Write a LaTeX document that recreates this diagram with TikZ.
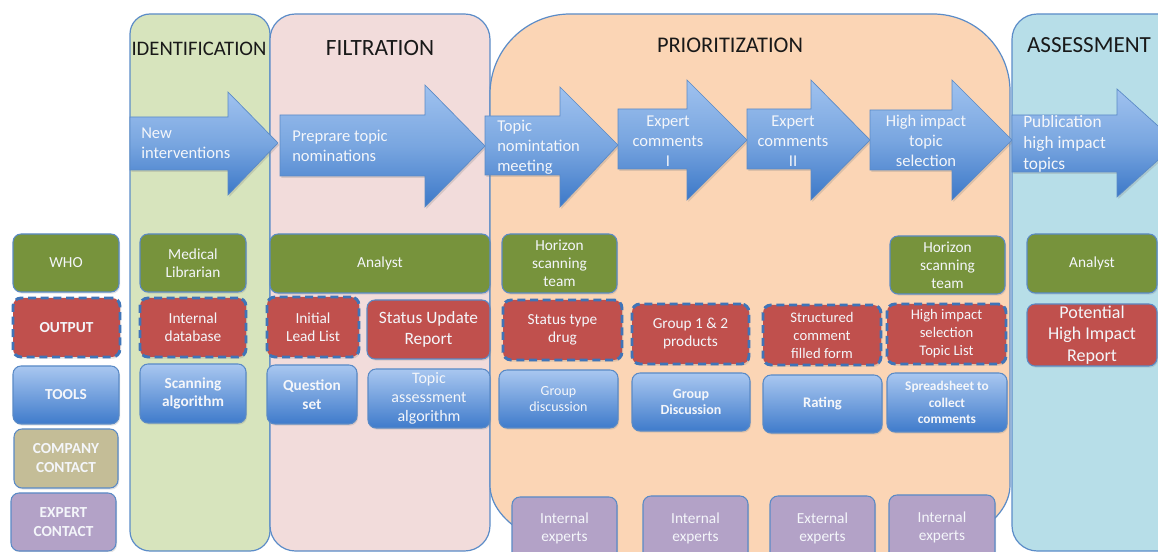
\documentclass[tikz,border=0pt]{standalone}
\usepackage{fontspec}
\setmainfont{Carlito}
\usetikzlibrary{shadows}

\definecolor{panelline}{HTML}{5B8CC8}
\definecolor{idfill}{HTML}{D7E4BD}
\definecolor{fifill}{HTML}{F2DCDB}
\definecolor{prfill}{HTML}{FBD5B5}
\definecolor{asfill}{HTML}{B7DEE8}
\definecolor{whofill}{HTML}{77933C}
\definecolor{outfill}{HTML}{C0504D}
\definecolor{toolstop}{HTML}{A9C7F0}
\definecolor{toolsbot}{HTML}{3F7BCB}
\definecolor{comfill}{HTML}{C4BD97}
\definecolor{expfill}{HTML}{B3A2C7}
\definecolor{boxline}{HTML}{5A8AC6}
\definecolor{dashline}{HTML}{3F74B8}
\definecolor{arrtop}{HTML}{A0C2EF}
\definecolor{arrmid}{HTML}{79A6E0}
\definecolor{arrbot}{HTML}{3C78C8}
\definecolor{lighttext}{HTML}{F4F6FA}

\newcommand\fs[2]{\fontsize{#1}{#2}\selectfont}

\tikzset{
  panel/.style={draw=panelline, line width=0.9pt},
  card/.style={rectangle, rounded corners=6pt, draw=boxline, line width=0.8pt,
    text=lighttext, align=center, inner sep=0pt, font=\fs{11.5}{13.5},
    drop shadow={opacity=0.22, shadow xshift=0.8pt, shadow yshift=-1.2pt}},
  whobox/.style={card, fill=whofill},
  outbox/.style={card, fill=outfill},
  outdashbox/.style={outbox, draw=dashline, line width=2.2pt, dash pattern=on 6pt off 3.5pt},
  toolbox/.style={card, top color=toolstop, bottom color=toolsbot},
  companybox/.style={card, fill=comfill},
  expertbox/.style={card, fill=expfill},
  flow/.style={draw=boxline, line width=0.5pt, top color=arrtop, bottom color=arrbot,
    middle color=arrmid,
    drop shadow={opacity=0.25, shadow xshift=1pt, shadow yshift=-1.5pt}},
  flowtext/.style={text=lighttext, font=\fs{12.4}{15}, inner sep=0pt},
  title/.style={text=black!90, inner sep=0pt}
}

% \cell{name}{style}{x1}{y1}{x2}{y2}{text}
\newcommand\cell[7]{\node[#2, minimum width={(#5-#3)*0.75pt},
  minimum height={(#6-#4)*0.75pt}] (#1) at ({(#3+#5)/2},{(#4+#6)/2}) {#7};}
% \flowarrow{left}{head base}{tip}{body top}{body bottom}{head top}{head bottom}{tip y}
\newcommand\flowarrow[8]{\path[flow] (#1,#4) -- (#2,#4) -- (#2,#6) -- (#3,#8)
  -- (#2,#7) -- (#2,#5) -- (#1,#5) -- cycle;}

\begin{document}
\begin{tikzpicture}[x=0.75pt, y=-0.75pt]
\useasboundingbox (0,0) rectangle (1158,552);
\fill[white] (0,0) rectangle (1158,552);

% stage panels
\draw[panel, fill=idfill, rounded corners=15pt] (130,14) rectangle (270,551);
\draw[panel, fill=fifill, rounded corners=19pt] (270,14) rectangle (490,551);
\draw[panel, fill=prfill] (490,94) .. controls (490,49.8) and (525.8,14) .. (570,14)
  -- (933,14) .. controls (975.5,14) and (1010,48.5) .. (1010,91)
  -- (1010,485) .. controls (1010,524.2) and (951.8,556) .. (880,556)
  -- (620,556) .. controls (548.2,556) and (490,524.2) .. (490,485) -- cycle;
\draw[panel, fill=asfill, rounded corners=19pt] (1012,14) rectangle (1190,551);

% stage titles
\node[title, font=\fs{15.5}{18}] (idtitle) at (199,49) {IDENTIFICATION};
\node[title, font=\fs{17.5}{20}] (fititle) at (380,48) {FILTRATION};
\node[title, font=\fs{16.8}{19}] (prtitle) at (730,45) {PRIORITIZATION};
\node[title, font=\fs{17.3}{20}] (astitle) at (1089,45) {ASSESSMENT};

% process arrows
\flowarrow{130}{228}{278}{117}{170}{92}{195}{143}
\flowarrow{280}{425}{485}{115}{176}{85}{207}{146}
\flowarrow{485}{560}{618}{116}{175}{87}{207}{145}
\flowarrow{618}{687}{747}{109}{169}{80}{200}{140}
\flowarrow{747}{811}{870}{109}{169}{80}{200}{140}
\flowarrow{870}{952}{1012}{110}{170}{80}{200}{140}
\flowarrow{1012}{1117}{1177}{115}{172}{89}{197}{143}

\node[flowtext, anchor=west, align=left] (a1) at (141,143) {New\\interventions};
\node[flowtext, anchor=west, align=left] (a2) at (292,146) {Preprare topic\\nominations};
\node[flowtext, anchor=west, align=left] (a3) at (497,147) {Topic\\nomintation\\meeting};
\node[flowtext, align=center] (a4) at (668,141) {Expert\\comments\\I};
\node[flowtext, align=center] (a5) at (793,141) {Expert\\comments\\II};
\node[flowtext, align=center] (a6) at (926,141) {High impact\\topic\\selection};
\node[flowtext, anchor=west, align=left, font=\fs{13}{16}] (a7) at (1023,144) {Publication\\high impact\\topics};

% row legend
\cell{who}{whobox}{13}{234}{119}{292}{WHO}
\cell{output}{outdashbox, font=\fs{11.5}{13.5}\bfseries}{13}{298}{120}{357}{OUTPUT}
\cell{tools}{toolbox, font=\fs{11.5}{13.5}\bfseries}{13}{366}{119}{424}{TOOLS}
\cell{company}{companybox, font=\fs{11.5}{14.25}\bfseries}{14}{429}{118}{488}{COMPANY\\CONTACT}
\cell{expert}{expertbox, font=\fs{11.5}{14.25}\bfseries}{11}{493}{116}{551}{EXPERT\\CONTACT}

% identification
\cell{idwho}{whobox}{140}{234}{246}{292}{Medical\\Librarian}
\cell{idout}{outdashbox}{140}{298}{246}{357}{Internal\\database}
\cell{idtool}{toolbox, font=\fs{11.5}{14}\bfseries}{140}{364}{246}{423}{Scanning\\algorithm}

% filtration
\cell{fiwho}{whobox}{270}{234}{490}{293}{Analyst}
\cell{fiout}{outdashbox}{267}{297}{359}{357}{Initial\\Lead List}
\cell{fireport}{outbox, font=\fs{13}{15.5}}{367}{300}{490}{359}{Status Update\\Report}
\cell{fiquest}{toolbox, font=\fs{11.5}{14}\bfseries}{267}{365}{357}{424}{Question\\set}
\cell{fitopic}{toolbox, font=\fs{12}{14.25}}{368}{369}{490}{428}{Topic\\assessment\\algorithm}

% prioritization
\cell{prwhoa}{whobox}{502}{234}{617}{293}{Horizon\\scanning\\team}
\cell{prwhob}{whobox}{890}{236}{1005}{294}{Horizon\\scanning\\team}
\cell{prouta}{outdashbox}{503}{300}{622}{360}{Status type\\drug}
\cell{proutb}{outdashbox}{632}{304}{749}{364}{Group 1 \& 2\\products}
\cell{proutc}{outdashbox, font=\fs{11}{13.5}}{763}{305}{881}{365}{Structured\\comment\\filled form}
\cell{proutd}{outdashbox, font=\fs{11}{13.5}}{887}{304}{1006}{364}{High impact\\selection\\Topic List}
\cell{prtoola}{toolbox, font=\fs{10.5}{11.75}}{499}{370}{618}{428}{Group\\discussion}
\cell{prtoolb}{toolbox, font=\fs{10.5}{11.5}\bfseries}{632}{373}{750}{431}{Group\\Discussion}
\cell{prtoolc}{toolbox, font=\fs{11}{13}\bfseries}{763}{375}{882}{433}{Rating}
\cell{prtoold}{toolbox, font=\fs{10}{12.4}\bfseries}{887}{373}{1007}{432}{Spreadsheet to\\collect\\comments}
\cell{prexpa}{expertbox}{512}{497}{617}{560}{Internal\\experts}
\cell{prexpb}{expertbox}{643}{496}{748}{560}{Internal\\experts}
\cell{prexpc}{expertbox}{770}{496}{875}{560}{External\\experts}
\cell{prexpd}{expertbox}{889}{495}{995}{560}{Internal\\experts}

% assessment
\cell{aswho}{whobox}{1027}{234}{1157}{293}{Analyst}
\cell{asout}{outbox, font=\fs{13.5}{16}}{1027}{304}{1157}{366}{Potential\\High Impact\\Report}
\end{tikzpicture}
\end{document}
